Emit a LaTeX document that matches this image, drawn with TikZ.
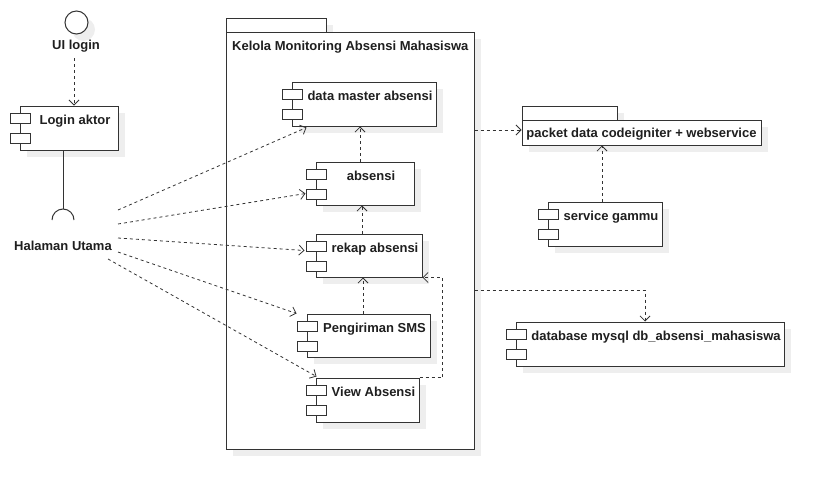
\documentclass[tikz,border=0pt]{standalone}
\usepackage{fontspec}
\setmainfont{Liberation Sans}
\usetikzlibrary{arrows.meta,fit,calc}
\definecolor{ln}{HTML}{333333}
\definecolor{shd}{HTML}{EEEEEE}
\tikzset{
 box/.style={draw=ln, line width=1pt, fill=white, inner sep=0pt},
 lbl/.style={font=\bfseries\fontsize{13}{15}\selectfont, text=black!88, inner sep=0pt, anchor=base},
 dep/.style={draw=ln, line width=0.8pt, dash pattern=on 3pt off 3pt, -{Straight Barb[length=5pt,width=10pt]}},
 port/.style={draw=ln, line width=1pt, fill=white},
 solidline/.style={draw=ln, line width=1pt}
}
\newcommand\mycomp[6]{%
 \fill[shd] (#2+7,#3+7) rectangle (#4+7,#5+7);
 \coordinate (#1-nw) at (#2,#3); \coordinate (#1-se) at (#4,#5);
 \node[box, fit=(#1-nw)(#1-se)] (#1) {};
 \draw[port] (#2-10,#3+7) rectangle (#2+10,#3+17);
 \draw[port] (#2-10,#3+27) rectangle (#2+10,#3+37);
 \node[lbl] (#1-t) at ({(#2+12+#4)/2},#3+18) {#6};
}
\begin{document}
\begin{tikzpicture}[x=1pt,y=-1pt]
\useasboundingbox (0,0) rectangle (824,490);
% UI login
\fill[shd] (83.5,29.5) circle (11.5);
\node[draw=ln, circle, minimum size=23pt, fill=white, inner sep=0pt, line width=1pt] (uic) at (76.5,22.5) {};
\node[lbl] (uil) at (76,49.5) {UI login};
% Login aktor
\mycomp{login}{20}{106}{118}{150}{Login aktor}
\coordinate (u1) at ($(uil.south)+(-2,6)$);
\draw[dep] (u1) -- (u1 |- login.north);
% socket
\coordinate (sock) at (63,209);
\draw[solidline] (login.south -| sock) -- (sock);
\draw[solidline] (52,220) arc[start angle=180, end angle=0, radius=11pt];
\node[lbl] (hu) at (63,250.5) {Halaman Utama};
\coordinate (h1) at (118,210);
\coordinate (h2) at (118,224);
\coordinate (h3) at (118,238);
\coordinate (h4) at (118,252);
\coordinate (h5) at (108,259);
% package Kelola
\fill[shd] (233,25) rectangle (333,39);
\fill[shd] (233,39) rectangle (481,456);
\draw[box] (226,18) rectangle (326,32);
\coordinate (kel-nw) at (226,32); \coordinate (kel-se) at (474,449);
\node[box, fit=(kel-nw)(kel-se)] (kel) {};
\node[lbl, anchor=base west] at (232,50) {Kelola Monitoring Absensi Mahasiswa};
% components inside
\mycomp{dm}{292}{82}{436}{126}{data master absensi}
\mycomp{abs}{316}{162}{414}{205}{absensi}
\mycomp{rek}{316}{234}{422}{277}{rekap absensi}
\mycomp{peng}{307}{314}{430}{357}{Pengiriman SMS}
\mycomp{view}{316}{378}{419}{422}{View Absensi}
% package packet
\fill[shd] (529,113) rectangle (624,127);
\fill[shd] (529,127) rectangle (768,152);
\draw[box] (522,106) rectangle (617,120);
\coordinate (pkt-nw) at (522,120); \coordinate (pkt-se) at (761,145);
\node[box, fit=(pkt-nw)(pkt-se)] (pkt) {};
\node[lbl] at (641.5,137) {packet data codeigniter + webservice};
% service gammu, database
\mycomp{gam}{548}{202}{662}{246}{service gammu}
\mycomp{db}{516}{322}{784}{366}{database mysql db\_absensi\_mahasiswa}
% arrows from Halaman Utama
\draw[dep] (h1) -- ($(dm.south west)+(15,1)$);
\draw[dep] (h2) -- ($(abs.south west)+(-10,-12)$);
\draw[dep] (h3) -- ($(rek.north west)+(-11,17)$);
\draw[dep] (h4) -- ($(peng.north west)+(-10,0)$);
\draw[dep] (h5) -- ($(view.north west)+(1,-1)$);
% internal dependencies
\draw[dep] ([xshift=-5pt]abs.north) -- ([xshift=-5pt]abs.north |- dm.south);
\draw[dep] ([xshift=-7pt]rek.north) -- ([xshift=-7pt]rek.north |- abs.south);
\draw[dep] ([xshift=-5.5pt]peng.north) -- ([xshift=-5.5pt]peng.north |- rek.south);
\draw[dep] (view.north east) -- ++(23,0) |- (rek.south east);
% package level
\coordinate (k1) at ($(kel.east |- pkt.west)+(0,-2.5)$);
\draw[dep] (k1) -- (k1 -| pkt.west);
\draw[dep] ([xshift=-3pt]gam.north) -- ([xshift=-3pt]gam.north |- pkt.south);
\coordinate (k2) at ($(kel.east)+(0,49.5)$);
\draw[dep] (k2) -| ([xshift=-5pt]db.north);
\end{tikzpicture}
\end{document}
